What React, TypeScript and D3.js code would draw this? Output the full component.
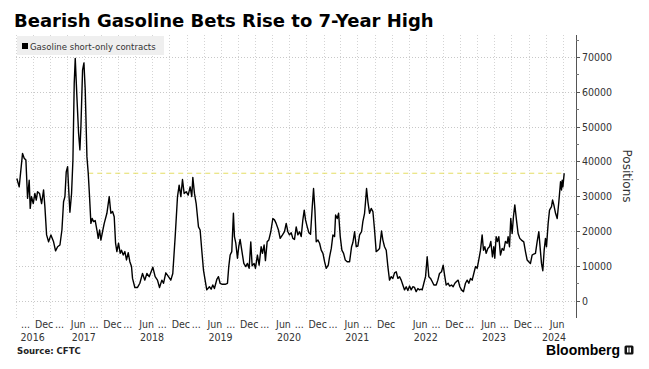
import { useEffect, useRef } from "react";
import * as d3 from "d3";

// Gasoline short-only contracts: [decimal year, thousands of contracts]
const shortOnly: [number, number][] = [
  [2016.517, 35.1], [2016.551, 32.7], [2016.6, 42.3], [2016.624, 40.9], [2016.649, 40.4],
  [2016.673, 29.4], [2016.697, 34.6], [2016.712, 26.5], [2016.731, 29.9], [2016.756, 27.9],
  [2016.78, 30.8], [2016.8, 28.9], [2016.819, 31.3], [2016.848, 30.8], [2016.878, 27.9],
  [2016.907, 31.8], [2016.926, 27.0], [2016.951, 18.9], [2016.98, 16.9], [2017.014, 18.9],
  [2017.053, 16.9], [2017.082, 14.3], [2017.112, 15.5], [2017.146, 16.0], [2017.175, 20.3],
  [2017.199, 28.4], [2017.219, 29.9], [2017.238, 37.0], [2017.258, 38.5], [2017.272, 32.7],
  [2017.292, 25.4], [2017.316, 30.8], [2017.336, 40.4], [2017.355, 62.4], [2017.37, 69.6],
  [2017.394, 58.6], [2017.419, 48.0], [2017.438, 43.3], [2017.453, 50.0], [2017.477, 66.2],
  [2017.497, 68.3], [2017.516, 60.5], [2017.541, 41.3], [2017.56, 36.6], [2017.579, 29.9],
  [2017.599, 22.2], [2017.618, 23.6], [2017.638, 22.7], [2017.662, 23.0], [2017.687, 20.3],
  [2017.706, 17.9], [2017.726, 20.3], [2017.745, 17.4], [2017.769, 19.8], [2017.794, 22.2],
  [2017.833, 25.1], [2017.867, 29.9], [2017.891, 25.1], [2017.916, 25.6], [2017.94, 24.1],
  [2017.96, 16.5], [2017.979, 14.1], [2018.003, 16.5], [2018.028, 13.6], [2018.047, 14.5],
  [2018.072, 13.1], [2018.096, 14.1], [2018.12, 11.7], [2018.145, 13.8], [2018.169, 11.2],
  [2018.193, 9.8], [2018.208, 6.4], [2018.242, 3.8], [2018.281, 3.8], [2018.315, 5.0],
  [2018.354, 7.8], [2018.388, 5.9], [2018.418, 7.8], [2018.452, 6.9], [2018.505, 9.6],
  [2018.539, 6.9], [2018.573, 5.9], [2018.603, 3.8], [2018.637, 5.9], [2018.661, 5.0],
  [2018.695, 8.0], [2018.734, 6.9], [2018.768, 5.9], [2018.797, 7.8], [2018.832, 18.4],
  [2018.866, 29.9], [2018.89, 33.2], [2018.915, 29.9], [2018.939, 34.8], [2018.963, 30.8],
  [2018.993, 31.3], [2019.022, 30.3], [2019.051, 32.7], [2019.075, 29.9], [2019.09, 35.4],
  [2019.114, 30.8], [2019.139, 27.9], [2019.173, 21.2], [2019.197, 20.3], [2019.221, 14.5],
  [2019.246, 8.8], [2019.27, 5.9], [2019.294, 3.1], [2019.333, 4.0], [2019.358, 3.3],
  [2019.382, 4.5], [2019.406, 3.5], [2019.441, 6.1], [2019.465, 6.9], [2019.489, 5.0],
  [2019.523, 4.7], [2019.563, 4.7], [2019.597, 5.0], [2019.616, 9.8], [2019.636, 13.1],
  [2019.66, 14.1], [2019.684, 25.1], [2019.699, 18.4], [2019.719, 16.5], [2019.743, 12.2],
  [2019.762, 15.5], [2019.782, 17.6], [2019.806, 14.5], [2019.836, 10.7], [2019.865, 9.8],
  [2019.889, 10.7], [2019.914, 9.3], [2019.938, 16.9], [2019.958, 10.0], [2019.987, 10.7],
  [2020.006, 9.3], [2020.035, 13.1], [2020.06, 10.2], [2020.089, 15.5], [2020.109, 13.6],
  [2020.133, 16.0], [2020.152, 11.5], [2020.177, 16.9], [2020.201, 17.4], [2020.23, 19.8],
  [2020.26, 23.6], [2020.284, 23.2], [2020.308, 22.2], [2020.342, 20.3], [2020.367, 17.9],
  [2020.401, 18.9], [2020.43, 19.8], [2020.455, 22.2], [2020.479, 19.8], [2020.503, 18.9],
  [2020.528, 19.5], [2020.552, 17.9], [2020.576, 17.6], [2020.601, 21.2], [2020.625, 18.9],
  [2020.65, 19.8], [2020.674, 18.4], [2020.698, 23.2], [2020.718, 26.0], [2020.737, 23.2],
  [2020.762, 21.2], [2020.786, 19.5], [2020.81, 19.1], [2020.835, 27.0], [2020.854, 32.2],
  [2020.874, 26.0], [2020.893, 16.9], [2020.918, 17.4], [2020.942, 16.5], [2020.966, 14.5],
  [2020.991, 13.6], [2021.015, 11.2], [2021.039, 9.3], [2021.069, 10.2], [2021.088, 12.6],
  [2021.113, 15.0], [2021.137, 18.9], [2021.161, 18.4], [2021.176, 24.6], [2021.2, 23.6],
  [2021.22, 25.1], [2021.244, 18.4], [2021.268, 14.5], [2021.293, 13.6], [2021.317, 11.7],
  [2021.346, 11.2], [2021.381, 11.2], [2021.41, 15.5], [2021.429, 16.7], [2021.454, 19.8],
  [2021.478, 15.5], [2021.502, 15.7], [2021.527, 18.9], [2021.556, 19.8], [2021.575, 22.7],
  [2021.6, 25.1], [2021.614, 28.4], [2021.629, 32.2], [2021.649, 28.4], [2021.673, 25.1],
  [2021.697, 26.5], [2021.722, 25.6], [2021.746, 20.3], [2021.77, 14.1], [2021.795, 14.5],
  [2021.819, 15.0], [2021.848, 20.0], [2021.868, 17.4], [2021.892, 15.5], [2021.917, 14.5],
  [2021.941, 9.8], [2021.965, 5.9], [2021.99, 6.9], [2022.014, 6.4], [2022.038, 8.0],
  [2022.063, 8.3], [2022.087, 6.4], [2022.111, 6.9], [2022.136, 5.9], [2022.16, 4.5],
  [2022.185, 3.1], [2022.209, 4.0], [2022.233, 2.9], [2022.258, 4.2], [2022.282, 3.1],
  [2022.306, 4.0], [2022.331, 3.8], [2022.355, 2.6], [2022.38, 3.5], [2022.404, 3.1],
  [2022.428, 3.3], [2022.443, 3.1], [2022.467, 5.0], [2022.492, 6.9], [2022.516, 12.6],
  [2022.54, 6.9], [2022.565, 6.4], [2022.589, 5.5], [2022.614, 4.5], [2022.648, 4.5],
  [2022.672, 5.9], [2022.696, 7.8], [2022.726, 8.3], [2022.75, 10.2], [2022.77, 7.4],
  [2022.794, 4.5], [2022.823, 5.0], [2022.843, 4.2], [2022.872, 4.5], [2022.896, 4.0],
  [2022.921, 5.0], [2022.945, 5.5], [2022.969, 5.9], [2022.994, 4.0], [2023.018, 3.1],
  [2023.047, 2.6], [2023.076, 5.0], [2023.101, 5.9], [2023.125, 5.0], [2023.15, 6.4],
  [2023.174, 5.9], [2023.198, 7.8], [2023.223, 9.8], [2023.247, 9.3], [2023.271, 11.7],
  [2023.296, 14.5], [2023.32, 18.9], [2023.34, 14.5], [2023.359, 15.5], [2023.379, 13.6],
  [2023.403, 15.0], [2023.427, 15.5], [2023.447, 17.0], [2023.471, 12.6], [2023.491, 15.5],
  [2023.505, 12.2], [2023.525, 18.4], [2023.544, 17.0], [2023.564, 18.4], [2023.588, 13.1],
  [2023.613, 15.0], [2023.637, 14.5], [2023.661, 17.0], [2023.686, 16.5], [2023.7, 18.4],
  [2023.72, 15.5], [2023.739, 23.6], [2023.759, 19.3], [2023.778, 24.1], [2023.798, 27.5],
  [2023.822, 23.2], [2023.846, 19.3], [2023.871, 17.9], [2023.895, 17.4], [2023.929, 16.9],
  [2023.954, 14.1], [2023.978, 11.7], [2024.002, 11.2], [2024.027, 10.7], [2024.051, 13.1],
  [2024.075, 13.4], [2024.1, 13.6], [2024.124, 16.9], [2024.149, 19.8], [2024.173, 14.1],
  [2024.188, 10.7], [2024.207, 8.6], [2024.227, 14.5], [2024.246, 17.9], [2024.261, 15.5],
  [2024.285, 22.2], [2024.305, 26.0], [2024.334, 27.0], [2024.349, 28.9], [2024.368, 27.5],
  [2024.393, 25.1], [2024.417, 23.6], [2024.441, 28.4], [2024.466, 34.2], [2024.48, 31.8],
  [2024.49, 34.6], [2024.5, 32.7], [2024.519, 36.6],
];

// the "7-year high" reference level and where it starts
const highLevel = 36600;
const highFrom = 2017.56;

const yTicks = [0, 10000, 20000, 30000, 40000, 50000, 60000, 70000];
const yMinorTicks = [5000, 15000, 25000, 35000, 45000, 55000, 65000, 75000];

// quarter labels Sep 2016 .. Jun 2024 (Mar 2022 left blank as in the original)
const quarterLabels = [
  "...", "Dec",
  "...", "Jun", "...", "Dec",
  "...", "Jun", "...", "Dec",
  "...", "Jun", "...", "Dec",
  "...", "Jun", "...", "Dec",
  "...", "Jun", "...", "Dec",
  "", "Jun", "...", "Dec",
  "...", "Jun", "...", "Dec",
  "...", "Jun",
];
const yearLabels = ["2016", "2017", "2018", "2019", "2020", "2021", "2022", "2023", "2024"];

const toDate = (y: number) => {
  const yr = Math.floor(y);
  const a = new Date(yr, 0, 1).getTime();
  const b = new Date(yr + 1, 0, 1).getTime();
  return new Date(a + (y - yr) * (b - a));
};

const AXIS_FONT = "'DejaVu Sans Condensed', 'DejaVu Sans', sans-serif";

const Chart = () => {
  const svgRef = useRef<SVGSVGElement | null>(null);

  useEffect(() => {
    const svg = d3.select(svgRef.current);
    svg.selectAll("*").remove();

    const width = 649;
    const height = 369;
    const top = 35;
    const bottom = 318;
    const left = 16;
    const axisX = 576;

    const x = d3
      .scaleTime()
      .domain([new Date(2016, 6, 1), new Date(2024, 6, 1)])
      .range([15.5, 562.7]);
    const y = d3.scaleLinear().domain([-5000, 76300]).range([318.1, 35]);

    svg.append("rect").attr("width", width).attr("height", height).attr("fill", "#fff");

    // title
    svg
      .append("text")
      .attr("x", 14)
      .attr("y", 27)
      .attr("font-family", "'DejaVu Sans', sans-serif")
      .attr("font-weight", 700)
      .attr("font-size", 18)
      .attr("fill", "#000")
      .text("Bearish Gasoline Bets Rise to 7-Year High");

    const grid = svg.append("g");
    // vertical gridlines every quarter
    const quarters = d3.timeMonth.range(new Date(2016, 6, 1), new Date(2024, 6, 2), 3);
    grid
      .selectAll("line.v")
      .data(quarters)
      .join("line")
      .attr("x1", (d) => Math.round(x(d)) + 0.5)
      .attr("x2", (d) => Math.round(x(d)) + 0.5)
      .attr("y1", top)
      .attr("y2", bottom)
      .attr("stroke", "#d4d4d4")
      .attr("stroke-dasharray", "1,2");

    grid
      .selectAll("line.h")
      .data(yTicks)
      .join("line")
      .attr("x1", left)
      .attr("x2", axisX)
      .attr("y1", (d) => Math.round(y(d)) + 0.5)
      .attr("y2", (d) => Math.round(y(d)) + 0.5)
      .attr("stroke", "#c8c8c8")
      .attr("stroke-dasharray", "1,2");

    // legend
    svg
      .append("rect")
      .attr("x", 17)
      .attr("y", 36)
      .attr("width", 147)
      .attr("height", 19)
      .attr("fill", "#efefef");
    svg.append("rect").attr("x", 22).attr("y", 43).attr("width", 6).attr("height", 6).attr("fill", "#000");
    svg
      .append("text")
      .attr("x", 30)
      .attr("y", 49.5)
      .attr("font-family", AXIS_FONT)
      .attr("font-size", 9.5)
      .attr("fill", "#333")
      .text("Gasoline short-only contracts");

    // 7-year-high level
    svg
      .append("line")
      .attr("x1", x(toDate(highFrom)))
      .attr("x2", x(toDate(shortOnly[shortOnly.length - 1][0])))
      .attr("y1", y(highLevel))
      .attr("y2", y(highLevel))
      .attr("stroke", "#e4de62")
      .attr("stroke-width", 1)
      .attr("stroke-dasharray", "5,4");

    const line = d3
      .line<[number, number]>()
      .x((d) => x(toDate(d[0])))
      .y((d) => y(d[1] * 1000));

    svg
      .append("path")
      .datum(shortOnly)
      .attr("fill", "none")
      .attr("stroke", "#000")
      .attr("stroke-width", 1.4)
      .attr("stroke-linejoin", "round")
      .attr("d", line);

    // right axis
    const ax = svg.append("g");
    ax.append("line")
      .attr("x1", axisX + 0.5)
      .attr("x2", axisX + 0.5)
      .attr("y1", top)
      .attr("y2", bottom)
      .attr("stroke", "#555");
    ax.selectAll("line.major")
      .data(yTicks)
      .join("line")
      .attr("x1", axisX)
      .attr("x2", axisX + 4)
      .attr("y1", (d) => Math.round(y(d)) + 0.5)
      .attr("y2", (d) => Math.round(y(d)) + 0.5)
      .attr("stroke", "#555");
    ax.selectAll("line.minor")
      .data(yMinorTicks)
      .join("line")
      .attr("class", "minor")
      .attr("x1", axisX)
      .attr("x2", axisX + 3)
      .attr("y1", (d) => Math.round(y(d)) + 0.5)
      .attr("y2", (d) => Math.round(y(d)) + 0.5)
      .attr("stroke", "#777");
    ax.selectAll("text")
      .data(yTicks)
      .join("text")
      .attr("x", axisX + 6)
      .attr("y", (d) => y(d) + 4)
      .attr("font-family", AXIS_FONT)
      .attr("font-size", 10.5)
      .attr("fill", "#333")
      .text((d) => `${d}`);

    svg
      .append("text")
      .attr("transform", `translate(623,176) rotate(90)`)
      .attr("text-anchor", "middle")
      .attr("font-family", "'DejaVu Sans', sans-serif")
      .attr("font-size", 12)
      .attr("fill", "#333")
      .text("Positions");

    // bottom labels
    const labelMonths = d3.timeMonth.range(new Date(2016, 8, 1), new Date(2024, 5, 2), 3);
    const bl = svg.append("g").attr("font-family", AXIS_FONT).attr("font-size", 10.5).attr("fill", "#333");
    bl.selectAll("text")
      .data(labelMonths)
      .join("text")
      .attr("x", (d, i) => (quarterLabels[i] === "..." ? x(d) - 6 : x(d)))
      .attr("y", 328)
      .attr("text-anchor", (d, i) => (quarterLabels[i] === "..." ? "start" : "middle"))
      .text((d, i) => quarterLabels[i]);

    const yearAnchors = yearLabels.map((yl, i) =>
      i === 0 ? new Date(2016, 8, 1) : new Date(+yl, 5, 1)
    );
    const yl = svg.append("g").attr("font-family", AXIS_FONT).attr("font-size", 10.5).attr("fill", "#333");
    yl.selectAll("text")
      .data(yearLabels)
      .join("text")
      .attr("x", (d, i) => (i === yearLabels.length - 1 ? 566 : x(yearAnchors[i]) - 6.5))
      .attr("y", 341)
      .attr("text-anchor", (d, i) => (i === yearLabels.length - 1 ? "end" : "start"))
      .text((d) => d);

    // footer
    svg
      .append("text")
      .attr("x", 17)
      .attr("y", 354)
      .attr("font-family", AXIS_FONT)
      .attr("font-weight", 700)
      .attr("font-size", 9.5)
      .attr("fill", "#222")
      .text("Source: CFTC");

    svg
      .append("text")
      .attr("x", 620)
      .attr("y", 355)
      .attr("text-anchor", "end")
      .attr("font-family", "'Liberation Sans', Arial, sans-serif")
      .attr("font-weight", 700)
      .attr("font-size", 14)
      .attr("fill", "#000")
      .text("Bloomberg");
    const logo = svg.append("g").attr("transform", "translate(624.5,345.5)");
    logo.append("rect").attr("width", 9).attr("height", 9).attr("rx", 1.5).attr("fill", "#111");
    logo.append("rect").attr("x", 2.5).attr("y", 2).attr("width", 1.5).attr("height", 5).attr("fill", "#fff");
    logo.append("rect").attr("x", 5).attr("y", 2).attr("width", 1.5).attr("height", 5).attr("fill", "#fff");
  }, []);

  return (
    <svg
      ref={svgRef}
      width={649}
      height={369}
      role="img"
      aria-label="Bearish Gasoline Bets Rise to 7-Year High"
      style={{ position: "absolute", left: 0, top: 0, display: "block" }}
    />
  );
};

export default function App() {
  return <Chart />;
}
